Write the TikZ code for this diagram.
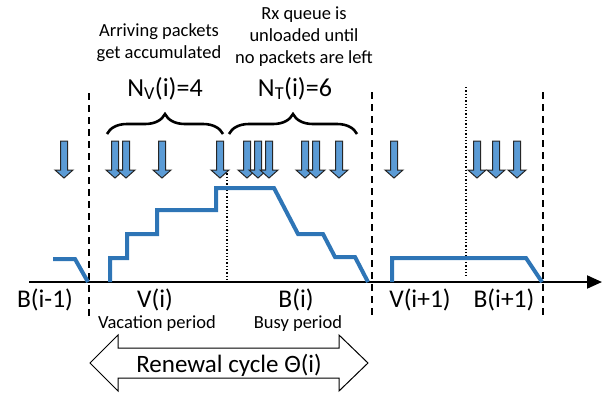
\documentclass[tikz,border=0pt]{standalone}
\usepackage{fontspec}
\setmainfont{Carlito}
\usetikzlibrary{decorations.pathreplacing,arrows.meta}
\definecolor{qline}{HTML}{2E75B6}
\definecolor{pktfill}{HTML}{5B9BD5}
\newcommand{\fs}[2]{\fontsize{#1}{#2}\selectfont}
\newcommand{\pkt}[1]{\draw[pkt] (#1-3.5,141) -- (#1+3.5,141) -- (#1+3.5,170) -- (#1+9,170) -- (#1,178) -- (#1-9,170) -- (#1-3.5,170) -- cycle;}
\tikzset{
  pkt/.style={fill=pktfill, draw=black!85, line width=1pt},
  queue/.style={draw=qline, line width=4pt},
  cyclebound/.style={line width=1.8pt, dash pattern=on 7pt off 5pt},
  phasebound/.style={line width=1.3pt, dotted},
  curly/.style={line width=2.6pt, decorate, decoration={brace, amplitude=20pt}},
  ticklbl/.style={anchor=base, inner sep=0pt, font=\fs{25.5}{30}},
  sublbl/.style={anchor=base, inner sep=0pt, font=\fs{18.5}{22}},
}

\begin{document}
\begin{tikzpicture}[x=1pt,y=-1pt]
        \useasboundingbox (0,0) rectangle (605,392);
        % time axis
        \coordinate (t0) at (29,282);
        \coordinate (tend) at (602,282);
        \draw[line width=2pt, -{Triangle[length=15pt,width=13pt]}] (t0) -- (tend);
        % cycle boundaries
        \draw[cyclebound] (89,93) -- (89,317);
        \draw[cyclebound] (372,92) -- (372,317);
        \draw[cyclebound] (543,92) -- (543,317);
        % vacation / busy boundaries
        \draw[phasebound] (227,170) -- (227,282);
        \draw[phasebound] (466,87) -- (466,278);
        % queue length
        \draw[queue] (53,259) -- (75,259) -- (88,282);
        \draw[queue] (110,282) -- (110,258) -- (127,258) -- (127,234) -- (157,234) -- (157,210)
            -- (216,210) -- (216,188) -- (274,188) -- (298,234) -- (323,234) -- (335,257)
            -- (355,257) -- (368,282);
        \draw[queue] (392,282) -- (392,258) -- (526,258) -- (542,282);
        % packet arrivals
        \pkt{64}
        \pkt{115} \pkt{126} \pkt{162} \pkt{220}
        \pkt{247} \pkt{258} \pkt{269} \pkt{305} \pkt{316} \pkt{339}
        \pkt{394}
        \pkt{477} \pkt{496} \pkt{517}
        % braces and counts
        \draw[curly] (107,134) -- (223,134);
        \draw[curly] (229,134) -- (357,134);
        \node[anchor=base, inner sep=0pt, font=\fs{26}{30}] (nv) at (165,96) {N\textsubscript{V}(i)=4};
        \node[anchor=base, inner sep=0pt, font=\fs{26}{30}] (nt) at (295,96) {N\textsubscript{T}(i)=6};
        \node[align=center, inner sep=0pt, font=\fs{18.5}{22}] (accum) at (159,43) {Arriving packets\\get accumulated};
        \node[align=center, inner sep=0pt, font=\fs{18.5}{22}] (unload) at (304,37) {Rx queue is\\unloaded until\\no packets are left};
        % period labels
        \node[ticklbl] (bprev) at (45,307) {B(i-1)};
        \node[ticklbl] (vi) at (155,307) {V(i)};
        \node[ticklbl] (bi) at (296,307) {B(i)};
        \node[ticklbl] (vnext) at (420,307) {V(i+1)};
        \node[ticklbl] (bnext) at (504,307) {B(i+1)};
        \node[sublbl] (vac) at (157,328) {Vacation period};
        \node[sublbl] (busy) at (298,328) {Busy period};
        % renewal cycle
        \draw[line width=1pt, fill=white] (90,363) -- (118,335) -- (118,348) -- (339,348) -- (339,335)
            -- (368,363) -- (339,391) -- (339,378) -- (118,378) -- (118,391) -- cycle;
        \node[anchor=base, inner sep=0pt, font=\fs{25}{30}] (cyc) at (229,372) {Renewal cycle Θ(i)};
\end{tikzpicture}
\end{document}
